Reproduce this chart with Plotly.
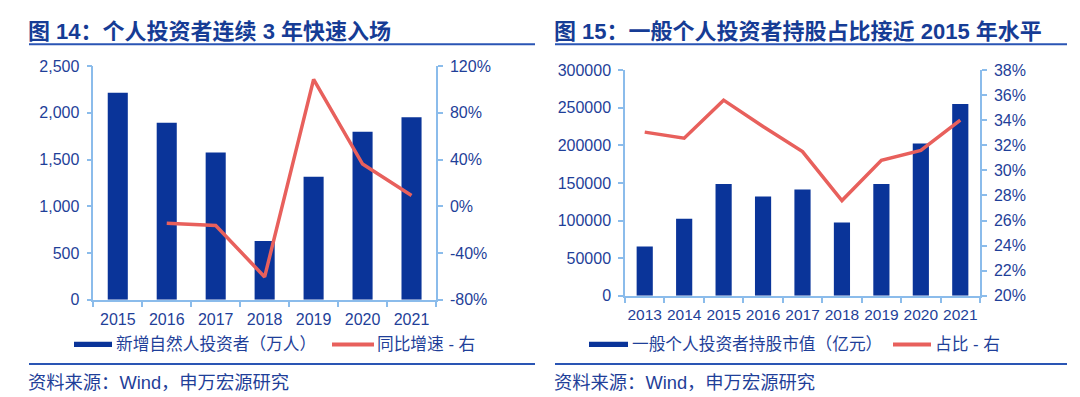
import plotly.graph_objects as go

# ---------------- data ----------------
years_l = ["2015", "2016", "2017", "2018", "2019", "2020", "2021"]
new_investors = [2216, 1893, 1577, 629, 1317, 1797, 1953]          # 万人
yoy_growth = [None, -14.4, -16.4, -60.4, 108.6, 36.2, 9.2]          # %
yoy_ticks = [-80, -40, 0, 40, 80, 120]
yoy_ticklabels = ["-80%", "-40%", "0%", "40%", "80%", "120%"]

years_r = ["2013", "2014", "2015", "2016", "2017", "2018", "2019", "2020", "2021"]
holding_value = [65700, 102400, 148700, 131900, 141200, 97500, 148700, 202500, 255000]  # 亿元
holding_share = [33.05, 32.57, 35.6, 33.5, 31.5, 27.6, 30.8, 31.6, 34.0]               # %

title_l = "图 14：个人投资者连续 3 年快速入场"
title_r = "图 15：一般个人投资者持股占比接近 2015 年水平"
legend_l = ["新增自然人投资者（万人）", "同比增速 - 右"]
legend_r = ["一般个人投资者持股市值（亿元）", "占比 - 右"]
source_text = "资料来源：Wind，申万宏源研究"

# ---------------- styles ----------------
W, H = 1080, 397
BAR = "#0A3499"
LINE = "#E8605C"
AXIS = "#8BBCEB"
TXT = "#1F3F99"
TITLE = "#163C95"
RULE = "#2A55B4"
FONT = "Liberation Sans, Arial, Noto Sans CJK SC"


def px(x):
    return x / W


def py(y):
    # vertical placement (pixel from top -> paper fraction), with compensation
    ys = (y - 7.7) / 0.961
    return 1 - ys / H


fig = go.Figure()

fig.add_trace(go.Bar(x=years_l, y=new_investors, marker_color=BAR, marker_line_width=0,
                     xaxis="x", yaxis="y", showlegend=False))
fig.add_trace(go.Scatter(x=years_l, y=yoy_growth, mode="lines", line=dict(color=LINE, width=3.5),
                         xaxis="x", yaxis="y2", showlegend=False))
fig.add_trace(go.Bar(x=years_r, y=holding_value, marker_color=BAR, marker_line_width=0,
                     xaxis="x2", yaxis="y3", showlegend=False))
fig.add_trace(go.Scatter(x=years_r, y=holding_share, mode="lines", line=dict(color=LINE, width=3.5),
                         xaxis="x2", yaxis="y4", showlegend=False))


def xax(size):
    return dict(type="category", showline=True, linecolor=AXIS, linewidth=1.5, ticks="outside",
                tickson="boundaries", ticklen=5, tickcolor=AXIS, tickwidth=1.5, showgrid=False,
                zeroline=False, tickangle=0, tickfont=dict(family=FONT, size=size, color=TXT),
                ticklabelstandoff=4, fixedrange=True)


common_y = dict(showline=True, linecolor=AXIS, linewidth=1.5, ticks="outside", ticklen=5,
                tickcolor=AXIS, tickwidth=1.5, showgrid=False, zeroline=False,
                tickfont=dict(family=FONT, size=16, color=TXT), ticklabelstandoff=4)

dl = [px(93.3), px(436)]
dr = [px(625), px(980)]
yl = [py(300.7), py(66)]
yr = [py(296.7), py(70)]

fig.update_layout(
    width=W, height=H,
    margin=dict(l=0, r=0, t=0, b=0),
    paper_bgcolor="white", plot_bgcolor="white",
    bargap=0.59,
    xaxis=dict(domain=dl, anchor="y", **xax(16)),
    yaxis=dict(domain=yl, anchor="x", range=[0, 2500], dtick=500, tickformat=",", side="left", **common_y),
    yaxis2=dict(overlaying="y", anchor="x", side="right", range=[-80, 120],
                tickvals=yoy_ticks, ticktext=yoy_ticklabels, **common_y),
    xaxis2=dict(domain=dr, anchor="y3", **xax(15.5)),
    yaxis3=dict(domain=yr, anchor="x2", range=[0, 300000], dtick=50000, tickformat="d", side="left", **common_y),
    yaxis4=dict(overlaying="y3", anchor="x2", side="right", range=[20, 38], dtick=2,
                ticksuffix="%", **common_y),
)

shapes = []
annotations = []

# titles and rules
for title, x0, x1 in [(title_l, 29, 535), (title_r, 555, 1067)]:
    annotations.append(dict(text="<b>" + title + "</b>", x=px(x0 - 3), y=py(31), xref="paper", yref="paper",
                            xanchor="left", yanchor="middle", showarrow=False,
                            font=dict(family=FONT, size=22, color=TITLE)))
    shapes.append(dict(type="line", xref="paper", yref="paper", x0=px(x0), x1=px(x1),
                       y0=py(44), y1=py(44), line=dict(color=RULE, width=2)))
    shapes.append(dict(type="line", xref="paper", yref="paper", x0=px(x0), x1=px(x1),
                       y0=py(365), y1=py(365), line=dict(color=RULE, width=2)))
    annotations.append(dict(text=source_text, x=px(x0 - 3), y=py(384), xref="paper", yref="paper",
                            xanchor="left", yanchor="middle", showarrow=False,
                            font=dict(family=FONT, size=18.3, color=TXT)))

# legends
legend_specs = [
    (legend_l, (74, 112, 116.5), (332, 374, 377.5)),
    (legend_r, (589, 628, 632.5), (893, 931, 936)),
]
for names, bar_pos, line_pos in legend_specs:
    shapes.append(dict(type="rect", xref="paper", yref="paper", x0=px(bar_pos[0]), x1=px(bar_pos[1]),
                       y0=py(348), y1=py(342.8), fillcolor=BAR, line=dict(width=0)))
    shapes.append(dict(type="line", xref="paper", yref="paper", x0=px(line_pos[0]), x1=px(line_pos[1]),
                       y0=py(345.5), y1=py(345.5), line=dict(color=LINE, width=4)))
    annotations.append(dict(text=names[0], x=px(bar_pos[2] - 3), y=py(346), xref="paper", yref="paper",
                            xanchor="left", yanchor="middle", showarrow=False,
                            font=dict(family=FONT, size=16.7, color=TXT)))
    annotations.append(dict(text=names[1], x=px(line_pos[2] - 3), y=py(346), xref="paper", yref="paper",
                            xanchor="left", yanchor="middle", showarrow=False,
                            font=dict(family=FONT, size=16.7, color=TXT)))

fig.update_layout(shapes=shapes, annotations=annotations)

fig.write_html("out.html",
               config={"displayModeBar": False},
               post_script="document.body.style.margin='0';document.body.style.overflow='hidden';")
